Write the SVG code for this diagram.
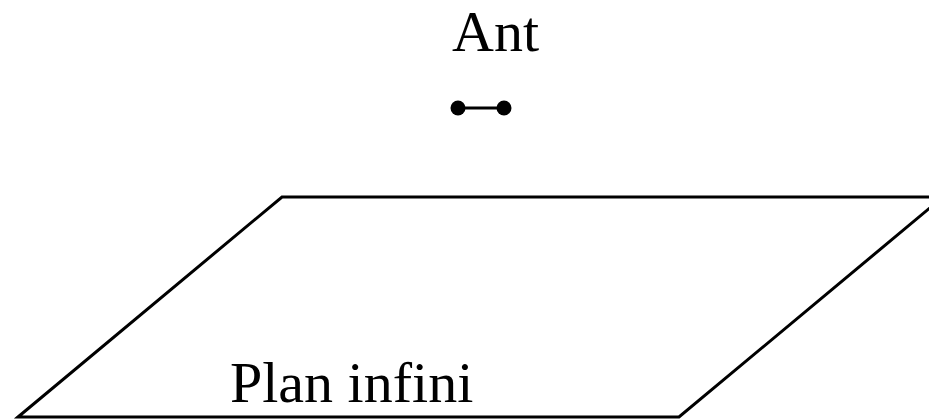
<svg xmlns="http://www.w3.org/2000/svg" width="929" height="419" viewBox="0 0 929 419">
<style>
.t{font-family:"Liberation Serif","Times New Roman",serif;font-size:58px;fill:#000}
.s{fill:none;stroke:#000;stroke-width:3}
</style>
<rect width="929" height="419" fill="#fff"/>
<g id="ant">
<text class="t" x="452" y="51">Ant</text>
<line x1="458" y1="108" x2="504" y2="108" stroke="#000" stroke-width="3"/>
<circle cx="458" cy="108" r="7.5" fill="#000"/>
<circle cx="504" cy="108" r="7.5" fill="#000"/>
</g>
<g id="plan">
<polygon class="s" points="18,417 282,197 943,197 679,417"/>
<text class="t" x="230" y="402">Plan infini</text>
</g>
</svg>
